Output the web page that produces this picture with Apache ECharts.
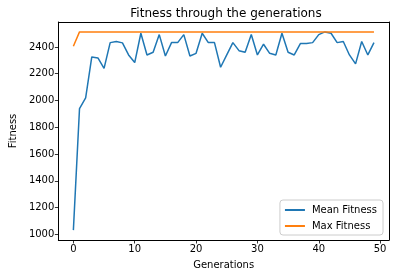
<!DOCTYPE html>
<html><head><meta charset="utf-8">
<script src="https://cdn.jsdelivr.net/npm/echarts@6/dist/echarts.min.js"></script>
<style>html,body{margin:0;padding:0;background:#fff}#c{width:395px;height:278px}</style>
</head><body><div id="c"></div>
<script>
const generations = Array.from({length: 50}, (_, i) => i);
const meanFitness = [1032, 1940, 2020, 2325, 2318, 2240, 2432, 2440, 2430, 2340,
  2283, 2502, 2340, 2360, 2492, 2332, 2432, 2432, 2492, 2332,
  2352, 2502, 2432, 2432, 2248, 2340, 2432, 2372, 2360, 2492,
  2340, 2420, 2352, 2340, 2502, 2360, 2340, 2425, 2425, 2432,
  2492, 2512, 2502, 2432, 2440, 2340, 2273, 2440, 2340, 2432];
const maxFitness = [2405].concat(Array(49).fill(2512));
const xTicks = [0, 10, 20, 30, 40, 50];
const yTicks = [1000, 1200, 1400, 1600, 1800, 2000, 2200, 2400];

const font = 'DejaVu Sans';
const frameAxis = (pos) => ({
  type: 'value', position: pos, min: 0, max: 1,
  axisLine: {show: true, onZero: false, lineStyle: {color: '#000', width: 1}},
  axisTick: {show: false}, axisLabel: {show: false}, splitLine: {show: false}
});
const chart = echarts.init(document.getElementById('c'), null, {renderer: 'canvas'});
chart.setOption({
  animation: false,
  backgroundColor: '#fff',
  title: {
    text: 'Fitness through the generations',
    left: 221, top: 3, textAlign: 'center',
    textStyle: {fontFamily: font, fontSize: 12, fontWeight: 'normal', color: '#000'}
  },
  grid: {left: 53, right: 6, top: 22, bottom: 38},
  legend: {
    orient: 'vertical', right: 12, bottom: 43,
    data: ['Mean Fitness', 'Max Fitness'],
    icon: 'rect', itemWidth: 20, itemHeight: 2, itemGap: 6,
    backgroundColor: 'rgba(255,255,255,0.8)', borderColor: '#ccc', borderWidth: 1, borderRadius: 3,
    padding: [5, 6, 4, 5],
    textStyle: {fontFamily: font, fontSize: 10, color: '#000', padding: [0, 0, 0, 2]}
  },
  xAxis: [{
    type: 'value', position: 'bottom', min: -2.45, max: 51.45,
    name: 'Generations', nameLocation: 'middle', nameGap: 20,
    nameTextStyle: {fontFamily: font, fontSize: 10, color: '#000'},
    axisLine: {show: true, onZero: false, lineStyle: {color: '#000', width: 1}},
    axisTick: {show: true, length: 3.5, lineStyle: {color: '#000', width: 0.8}, customValues: xTicks},
    axisLabel: {fontFamily: font, fontSize: 10, color: '#000', margin: 4, customValues: xTicks, formatter: v => String(v)},
    splitLine: {show: false}
  }, frameAxis('top')],
  yAxis: [{
    type: 'value', position: 'left', min: 958, max: 2586,
    name: 'Fitness', nameLocation: 'middle', nameGap: 36,
    nameTextStyle: {fontFamily: font, fontSize: 10, color: '#000'},
    axisLine: {show: true, onZero: false, lineStyle: {color: '#000', width: 1}},
    axisTick: {show: true, length: 3.5, lineStyle: {color: '#000', width: 0.8}, customValues: yTicks},
    axisLabel: {fontFamily: font, fontSize: 10, color: '#000', margin: 4, customValues: yTicks, formatter: v => String(v)},
    splitLine: {show: false}
  }, frameAxis('right')],
  series: [
    {name: 'Mean Fitness', type: 'line', xAxisIndex: 0, yAxisIndex: 0, data: generations.map((g, i) => [g, meanFitness[i]]),
     showSymbol: false, lineStyle: {color: '#1f77b4', width: 1.5}, itemStyle: {color: '#1f77b4'}},
    {name: 'Max Fitness', type: 'line', xAxisIndex: 0, yAxisIndex: 0, data: generations.map((g, i) => [g, maxFitness[i]]),
     showSymbol: false, lineStyle: {color: '#ff7f0e', width: 1.5}, itemStyle: {color: '#ff7f0e'}}
  ]
});
</script></body></html>
